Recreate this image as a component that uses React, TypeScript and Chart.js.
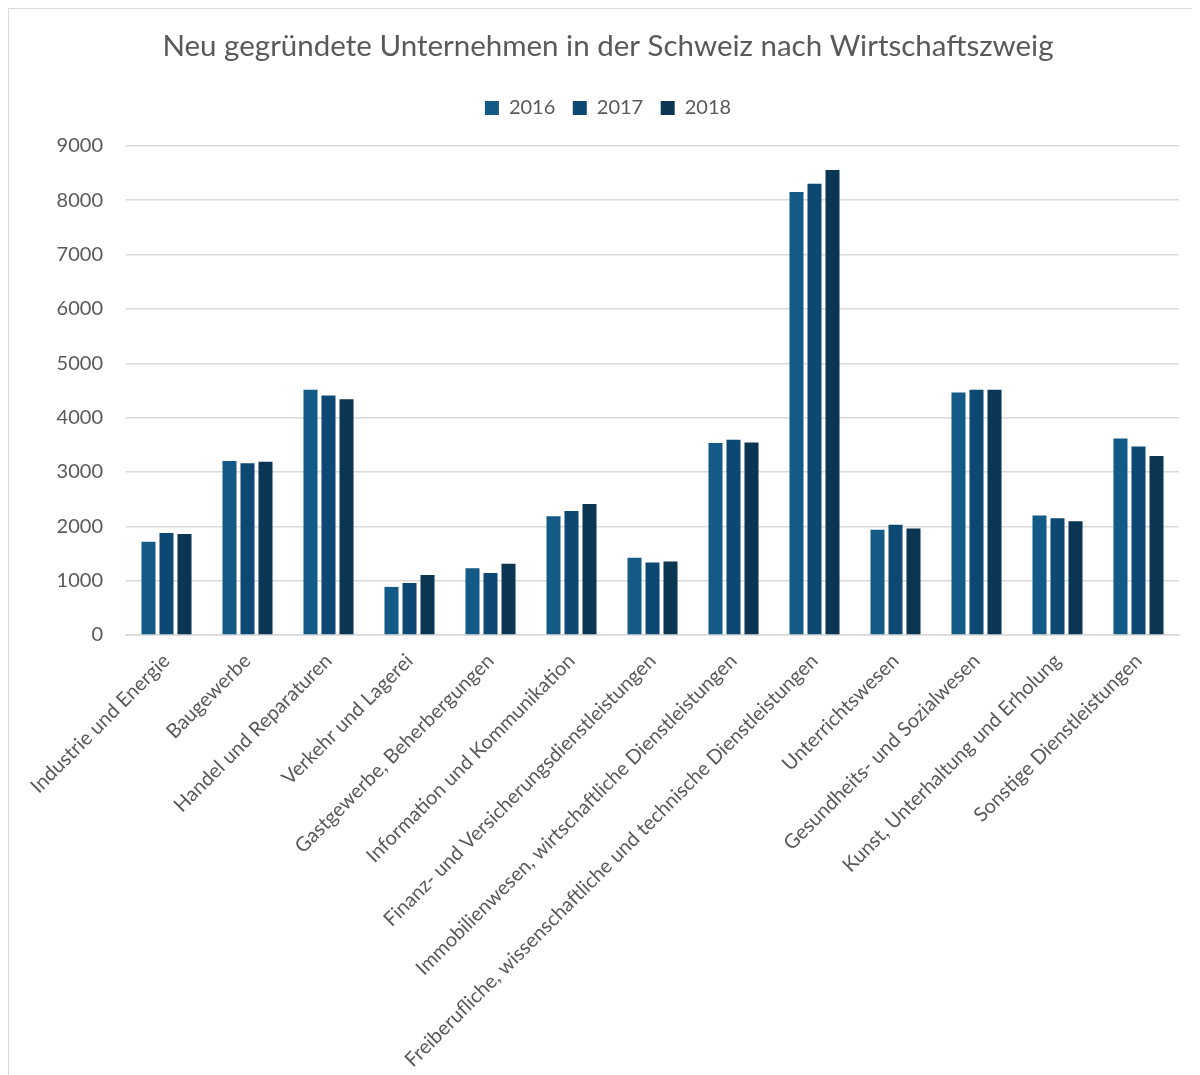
import React, { useEffect, useRef } from "react";
import { Chart, registerables } from "chart.js";

Chart.register(...registerables);

const TITLE = "Neu gegründete Unternehmen in der Schweiz nach Wirtschaftszweig";

const categories = [
  "Industrie und Energie",
  "Baugewerbe",
  "Handel und Reparaturen",
  "Verkehr und Lagerei",
  "Gastgewerbe, Beherbergungen",
  "Information und Kommunikation",
  "Finanz- und Versicherungsdienstleistungen",
  "Immobilienwesen, wirtschaftliche Dienstleistungen",
  "Freiberufliche, wissenschaftliche und technische Dienstleistungen",
  "Unterrichtswesen",
  "Gesundheits- und Sozialwesen",
  "Kunst, Unterhaltung und Erholung",
  "Sonstige Dienstleistungen",
];

const values2016 = [1715, 3200, 4515, 885, 1227, 2185, 1420, 3535, 8150, 1935, 4460, 2200, 3615];
const values2017 = [1877, 3160, 4405, 957, 1141, 2283, 1335, 3595, 8305, 2030, 4515, 2150, 3470];
const values2018 = [1860, 3190, 4340, 1104, 1313, 2412, 1352, 3540, 8555, 1960, 4515, 2095, 3295];

const seriesLabels = ["2016", "2017", "2018"];
const seriesColors = ["#135a86", "#0c4872", "#0a3553"];

const yMin = 0;
const yMax = 9000;
const yStep = 1000;

const FONT = "Lato, 'Open Sans', sans-serif";
const TEXT = "#595959";
const CANVAS_W = 1199;
const CANVAS_H = 1066;
const LEGEND_GAP = 18;

const legendSpacer = {
  id: "legendSpacer",
  beforeUpdate(chart: any) {
    const lg = chart.legend;
    if (lg && !lg.__patched) {
      lg.__patched = true;
      const origFit = lg.fit;
      lg.fit = function (this: any) {
        origFit.call(this);
        this.height += LEGEND_GAP;
      };
    }
  },
};

export default function App() {
  const ref = useRef<HTMLCanvasElement | null>(null);

  useEffect(() => {
    if (!ref.current) return;
    const chart = new Chart(ref.current, {
      type: "bar",
      data: {
        labels: categories,
        datasets: [values2016, values2017, values2018].map((d, i) => ({
          label: seriesLabels[i],
          data: d,
          backgroundColor: seriesColors[i],
          borderWidth: 0,
          categoryPercentage: 0.667,
          barPercentage: 0.778,
        })),
      },
      plugins: [legendSpacer],
      options: {
        responsive: false,
        animation: false,
        devicePixelRatio: 1,
        layout: { padding: { left: 28, right: 29, top: 0, bottom: 0 } },
        plugins: {
          title: {
            display: true,
            text: TITLE,
            color: TEXT,
            font: { family: FONT, size: 29.5, weight: "normal" },
            padding: { top: 20, bottom: 16 },
          },
          legend: {
            display: true,
            position: "top",
            labels: {
              color: TEXT,
              font: { family: FONT, size: 20 },
              boxWidth: 14,
              boxHeight: 14,
              padding: 17.5,
            },
          },
          tooltip: { enabled: false },
        },
        scales: {
          x: {
            grid: { display: false, drawTicks: false },
            border: { display: true, color: "#d9d9d9", width: 1.5 },
            ticks: {
              color: TEXT,
              font: { family: FONT, size: 20 },
              autoSkip: false,
              maxRotation: 45,
              minRotation: 45,
              padding: 14,
            },
            afterFit: (s: any) => {
              s.height = 440;
            },
          },
          y: {
            min: yMin,
            max: yMax,
            grid: { color: "#d9d9d9", lineWidth: 1.5, drawTicks: false },
            border: { display: false },
            ticks: {
              stepSize: yStep,
              color: TEXT,
              font: { family: FONT, size: 20 },
              padding: 23,
              callback: (v: any) => String(v),
            },
            afterFit: (s: any) => {
              s.width = 89;
            },
          },
        },
      },
    });
    return () => chart.destroy();
  }, []);

  return (
    <div
      style={{
        width: 1192,
        height: 1067,
        overflow: "hidden",
        borderTop: "1px solid #d9d9d9",
        borderLeft: "1px solid #d9d9d9",
        boxSizing: "border-box",
        background: "#fff",
      }}
    >
      <canvas ref={ref} width={CANVAS_W} height={CANVAS_H} style={{ display: "block" }} />
    </div>
  );
}
